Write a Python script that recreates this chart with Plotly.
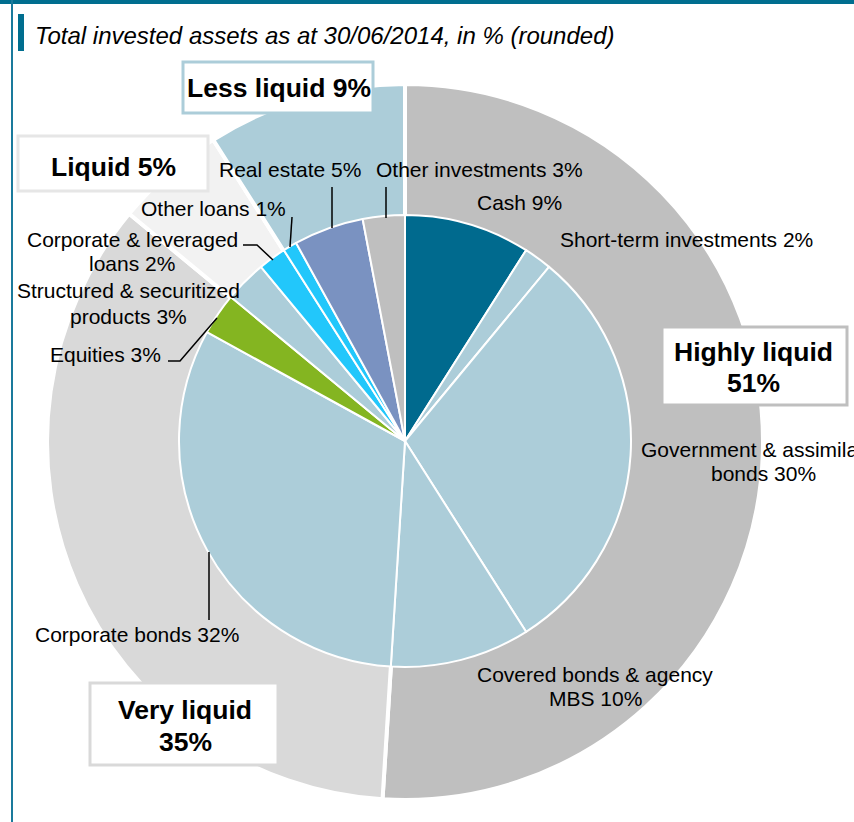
import plotly.graph_objects as go

W, H = 854, 822

# ---------------- data ----------------
asset_labels = ["Cash", "Short-term investments", "Government & assimilated bonds",
                "Covered bonds & agency MBS", "Corporate bonds", "Equities",
                "Structured & securitized products", "Corporate & leveraged loans",
                "Other loans", "Real estate", "Other investments"]
asset_values = [9, 2, 30, 10, 32, 3, 3, 2, 1, 5, 3]

liq_labels = ["Highly liquid", "Very liquid", "Liquid", "Less liquid"]
liq_values = [51, 35, 5, 9]

title_text = "Total invested assets as at 30/06/2014, in % (rounded)"

# ---------------- styles ----------------
TEAL = "#006a8e"
LBLUE = "#accdd9"
asset_colors = [TEAL, LBLUE, LBLUE, LBLUE, LBLUE, "#84b521", LBLUE,
                "#22c7fb", "#22c7fb", "#7a92c1", "#bfbfbf"]
liq_colors = ["#bfbfbf", "#d9d9d9", "#f2f2f2", LBLUE]
box_border = ["#bfbfbf", "#d9d9d9", "#e6e6e6", LBLUE]

FONT = "Arial, Liberation Sans, sans-serif"


def px(x):
    return x / W


def py(y):
    return 1 - y / H


def dom(cx, cy, r):
    return dict(x=[px(cx - r), px(cx + r)], y=[py(cy + r), py(cy - r)])


fig = go.Figure()
fig.add_trace(go.Pie(
    labels=liq_labels, values=liq_values, sort=False, direction="clockwise",
    rotation=0, hole=0.6, domain=dom(405, 442, 358),
    marker=dict(colors=liq_colors, line=dict(color="white", width=4)),
    textinfo="none", hoverinfo="label+percent", showlegend=False))
fig.add_trace(go.Pie(
    labels=asset_labels, values=asset_values, sort=False, direction="clockwise",
    rotation=0, domain=dom(405, 441, 226),
    marker=dict(colors=asset_colors, line=dict(color="white", width=2)),
    textinfo="none", hoverinfo="label+percent", showlegend=False))

shapes = []
annotations = []


def rect(x0, y0, x1, y1, fill, line=None, lw=0):
    shapes.append(dict(type="rect", xref="paper", yref="paper",
                       x0=px(x0), x1=px(x1), y0=py(y1), y1=py(y0),
                       fillcolor=fill, line=dict(color=line or fill, width=lw),
                       layer="above"))


def path(points):
    d = "M " + " L ".join(f"{px(x)},{py(y)}" for x, y in points)
    shapes.append(dict(type="path", xref="paper", yref="paper", path=d,
                       line=dict(color="black", width=1.5), layer="above"))


def text(t, x, y, size=21, bold=False, anchor="center"):
    if bold:
        t = f"<b>{t}</b>"
    annotations.append(dict(text=t, x=px(x), y=py(y), xref="paper", yref="paper",
                            xanchor=anchor, yanchor="middle", showarrow=False,
                            font=dict(family=FONT, size=size, color="black")))


# frame
rect(0, 0, W, 4, "#006e8f")
rect(11, 0, 13, H, "#1a7a9c")
rect(18, 14, 24, 51, "#006e8f")
annotations.append(dict(text=f"<i>{title_text}</i>", x=px(33), y=py(35),
                        xref="paper", yref="paper", xanchor="left", yanchor="middle",
                        showarrow=False, font=dict(family=FONT, size=24, color="black")))

# category boxes
rect(662, 327, 847, 405, "white", box_border[0], 3)
rect(90, 683, 278, 765, "white", box_border[1], 3)
rect(18, 136, 208, 191, "white", box_border[2], 3)
rect(183, 62, 373, 113, "white", box_border[3], 3)
text(f"{liq_labels[0]}", 753, 352, 26.5, True)
text(f"{liq_values[0]}%", 753, 383, 26.5, True)
text(f"{liq_labels[1]}", 185, 710, 26.5, True)
text(f"{liq_values[1]}%", 185, 742, 26.5, True)
text(f"{liq_labels[2]} {liq_values[2]}%", 113, 167, 26.5, True)
text(f"{liq_labels[3]} {liq_values[3]}%", 279, 88, 26.5, True)

# leader lines
path([(332, 187), (332, 228)])
path([(386, 187), (386, 218)])
path([(292, 217), (290, 247)])
path([(243, 245), (257, 245), (273, 260)])
path([(168, 361), (180, 361), (217, 318)])
path([(209, 552), (209, 620)])

# asset labels
v = dict(zip(asset_labels, asset_values))
text(f"Cash {v['Cash']}%", 519, 202)
text(f"Short-term investments {v['Short-term investments']}%", 686, 239)
text("Government & assimilated", 639, 449, anchor="left")
text(f"bonds {v['Government & assimilated bonds']}%", 763, 473)
text("Covered bonds & agency", 595, 674)
text(f"MBS {v['Covered bonds & agency MBS']}%", 595, 698)
text(f"Corporate bonds {v['Corporate bonds']}%", 137, 634)
text(f"Equities {v['Equities']}%", 163, 354, anchor="right")
text("Structured & securitized", 128, 290)
text(f"products {v['Structured & securitized products']}%", 128, 316)
text("Corporate & leveraged", 132, 239)
text(f"loans {v['Corporate & leveraged loans']}%", 132, 263)
text(f"Other loans {v['Other loans']}%", 213, 209)
text(f"Real estate {v['Real estate']}%", 290, 170)
text(f"Other investments {v['Other investments']}%", 480, 169)

fig.update_layout(width=W, height=H, margin=dict(l=0, r=0, t=0, b=0),
                  paper_bgcolor="white", plot_bgcolor="white",
                  shapes=shapes, annotations=annotations, showlegend=False)
fig.write_html("out.html", config={"displayModeBar": False},
               post_script="document.body.style.margin='0';document.body.style.overflow='hidden';")
